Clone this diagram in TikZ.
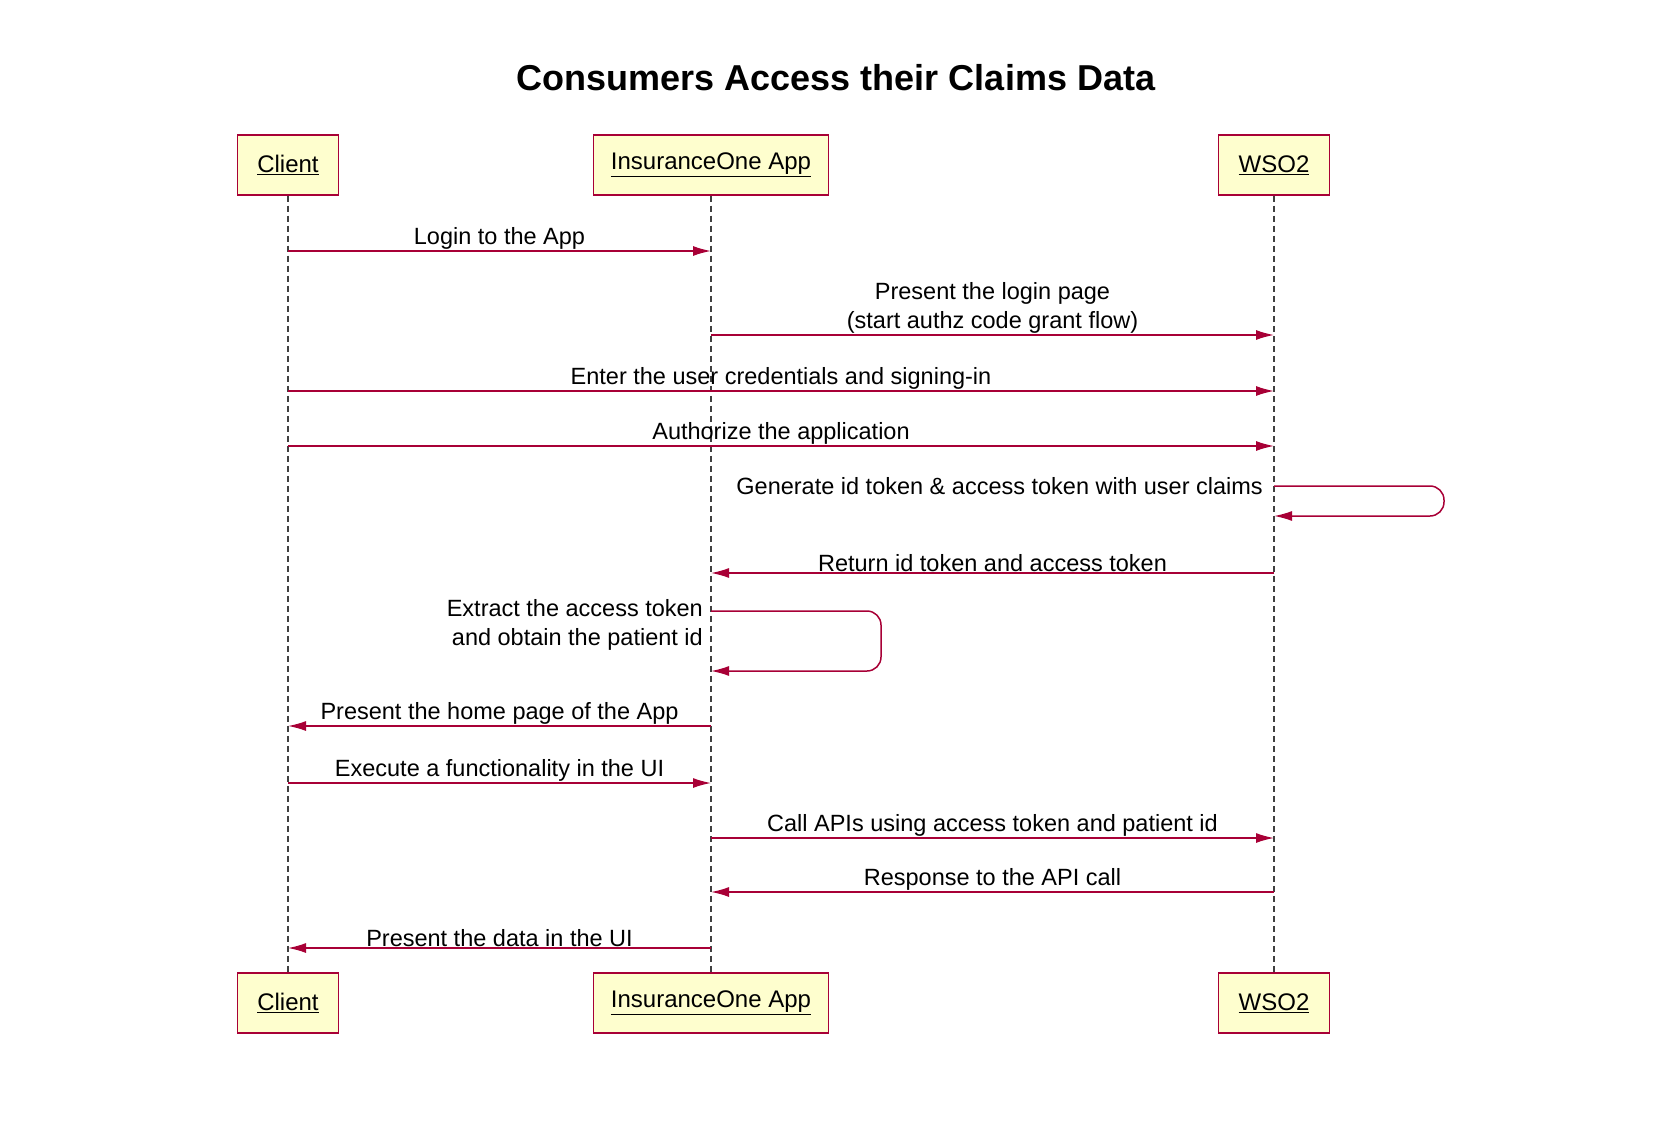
\documentclass[tikz,border=0pt]{standalone}
\usepackage{fontspec}
\setmainfont{Liberation Sans}
\usetikzlibrary{arrows.meta}
\definecolor{umlred}{HTML}{A80036}
\definecolor{umlfill}{HTML}{FEFECE}
\tikzset{
  part/.style={draw=umlred, fill=umlfill, line width=1.5pt, minimum height=60pt, inner xsep=0pt, font=\fontsize{24}{28}\selectfont},
  life/.style={dashed, line width=1.5pt, draw=black!75, dash pattern=on 6pt off 4pt},
  msg/.style={draw=umlred, line width=1.5pt, -{Latex[length=18pt,width=10pt]}},
  lbl/.style={font=\fontsize{23.5}{29}\selectfont, align=center, inner sep=1pt}
}
\begin{document}
\begin{tikzpicture}[x=1pt, y=-1pt]
\useasboundingbox (0,0) rectangle (1667,1123);

\node[font=\bfseries\fontsize{36}{40}\selectfont] (title) at (836,78) {Consumers Access their Claims Data};

% participants
\node[part, minimum width=101pt] (C) at (288,165) {\underline{Client}};
\node[part, minimum width=235pt] (A) at (711,165) {\underline{InsuranceOne App}};
\node[part, minimum width=111pt] (W) at (1274,165) {\underline{WSO2}};
\node[part, minimum width=101pt] (C2) at (288,1003) {\underline{Client}};
\node[part, minimum width=235pt] (A2) at (711,1003) {\underline{InsuranceOne App}};
\node[part, minimum width=111pt] (W2) at (1274,1003) {\underline{WSO2}};

\draw[life] (C) -- (C2);
\draw[life] (A) -- (A2);
\draw[life] (W) -- (W2);

% anchor points on the lifelines
\foreach \n/\y in {1/251,2/335,3/391,4/446,5/486,6/516,7/573,8/611,9/671,10/726,11/783,12/838,13/892,14/948}{
  \coordinate (c\n) at (288,\y);
  \coordinate (a\n) at (711,\y);
  \coordinate (w\n) at (1274,\y);
}
\coordinate (wr) at (1444,0);
\coordinate (ar) at (881,0);

% messages
\draw[msg] (c1) -- node[lbl, above] {Login to the App} (a1);
\draw[msg] (a2) -- node[lbl, above] {Present the login page\\(start authz code grant flow)} (w2);
\draw[msg] (c3) -- node[lbl, above] {Enter the user credentials and signing-in} (w3);
\draw[msg] (c4) -- node[lbl, above] {Authorize the application} (w4);
\draw[msg, rounded corners=14pt] (w5) -- (w5 -| wr) -- (w6 -| wr) -- (w6);
\node[lbl, anchor=base east] (gen) at (1264,494) {Generate id token \& access token with user claims};
\draw[msg] (w7) -- node[lbl, above] {Return id token and access token} (a7);
\draw[msg, rounded corners=14pt] (a8) -- (a8 -| ar) -- (a9 -| ar) -- (a9);
\node[lbl, anchor=north east, align=right] (ext) at (704,598) {Extract the access token\\and obtain the patient id};
\draw[msg] (a10) -- node[lbl, above] {Present the home page of the App} (c10);
\draw[msg] (c11) -- node[lbl, above] {Execute a functionality in the UI} (a11);
\draw[msg] (a12) -- node[lbl, above] {Call APIs using access token and patient id} (w12);
\draw[msg] (w13) -- node[lbl, above] {Response to the API call} (a13);
\draw[msg] (a14) -- node[lbl, above] {Present the data in the UI} (c14);
\end{tikzpicture}
\end{document}
